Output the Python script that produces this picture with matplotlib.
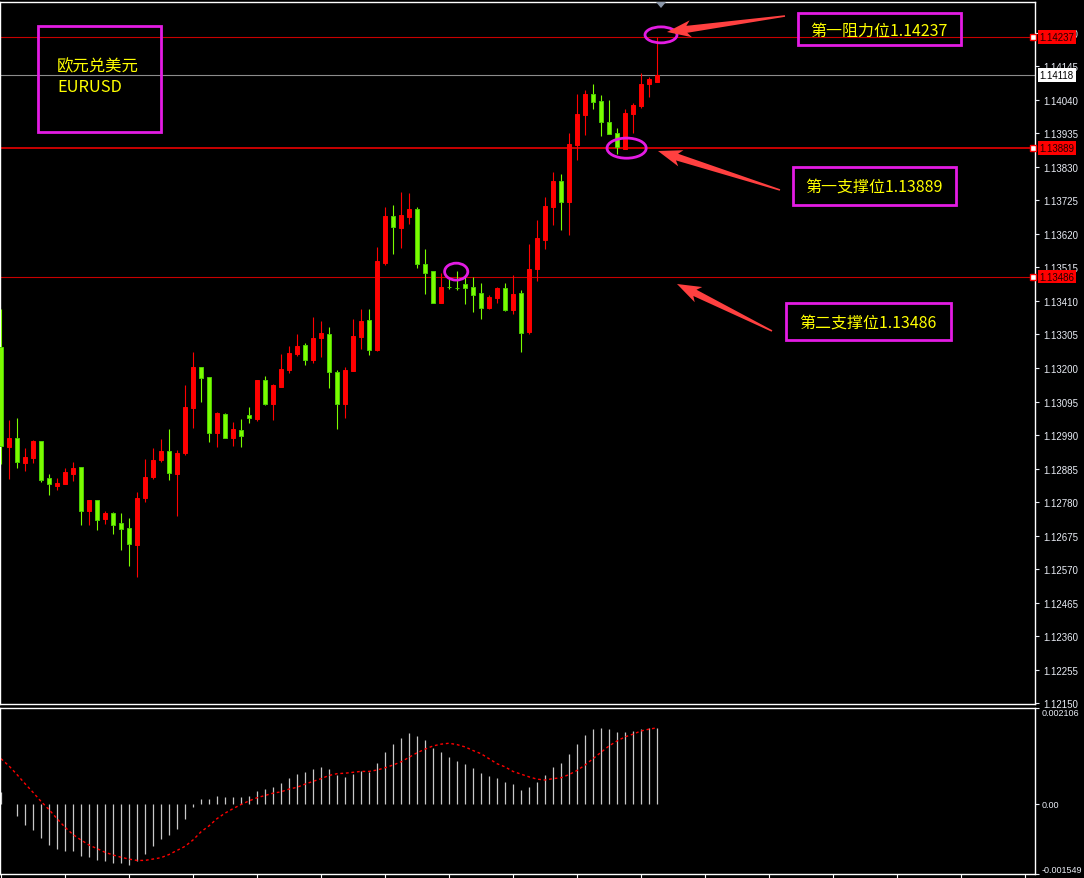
import numpy as np
import matplotlib
matplotlib.use("Agg")
import matplotlib.pyplot as plt
import matplotlib.transforms as mtransforms
from matplotlib.patches import Ellipse, Rectangle, Polygon

plt.rcParams['font.family'] = ['Liberation Sans', 'DejaVu Sans']

# ---- EURUSD candles ----
opens = [1.13266, 1.12952, 1.12980, 1.12902, 1.12918, 1.12971, 1.12855, 1.12830, 1.12836, 1.12868,
         1.12890, 1.12752, 1.12786, 1.12727, 1.12745, 1.12714, 1.12698, 1.12645, 1.12792, 1.12858,
         1.12912, 1.12940, 1.12868, 1.12933, 1.13074, 1.13203, 1.13172, 1.12996, 1.13056, 1.12980,
         1.13006, 1.13053, 1.13040, 1.13162, 1.13087, 1.13140, 1.13194, 1.13244, 1.13272, 1.13225,
         1.13294, 1.13306, 1.13187, 1.13087, 1.13190, 1.13297, 1.13350, 1.13256, 1.13529, 1.13676,
         1.13639, 1.13673, 1.13698, 1.13526, 1.13504, 1.13404, 1.13454, 1.13451, 1.13463, 1.13454,
         1.13435, 1.13388, 1.13419, 1.13451, 1.13382, 1.13435, 1.13313, 1.13510, 1.13601, 1.13704,
         1.13786, 1.13720, 1.13899, 1.13993, 1.14059, 1.14037, 1.13971, 1.13936, 1.13886, 1.13996,
         1.14021, 1.14090, 1.14096]
highs = [1.13385, 1.13037, 1.13043, 1.12949, 1.12974, 1.12971, 1.12868, 1.12855, 1.12886, 1.12905,
         1.12890, 1.12786, 1.12786, 1.12752, 1.12749, 1.12745, 1.12730, 1.12811, 1.12915, 1.12949,
         1.12977, 1.13009, 1.12943, 1.13147, 1.13250, 1.13203, 1.13172, 1.13062, 1.13059, 1.13031,
         1.13040, 1.13078, 1.13162, 1.13175, 1.13150, 1.13244, 1.13269, 1.13306, 1.13278, 1.13360,
         1.13347, 1.13328, 1.13194, 1.13203, 1.13353, 1.13385, 1.13385, 1.13579, 1.13704, 1.13711,
         1.13751, 1.13748, 1.13704, 1.13573, 1.13504, 1.13498, 1.13479, 1.13504, 1.13485, 1.13485,
         1.13466, 1.13429, 1.13454, 1.13466, 1.13491, 1.13444, 1.13589, 1.13664, 1.13736, 1.13814,
         1.13808, 1.13936, 1.14059, 1.14071, 1.14090, 1.14055, 1.14040, 1.13952, 1.14012, 1.14030,
         1.14124, 1.14112, 1.14237]
lows = [1.12899, 1.12852, 1.12886, 1.12877, 1.12902, 1.12843, 1.12802, 1.12818, 1.12836, 1.12846,
        1.12708, 1.12708, 1.12692, 1.12711, 1.12680, 1.12630, 1.12579, 1.12545, 1.12780, 1.12852,
        1.12905, 1.12849, 1.12736, 1.12927, 1.13012, 1.13093, 1.12968, 1.12952, 1.12980, 1.12955,
        1.12952, 1.13028, 1.13034, 1.13084, 1.13037, 1.13140, 1.13184, 1.13237, 1.13209, 1.13216,
        1.13234, 1.13137, 1.13009, 1.13043, 1.13190, 1.13259, 1.13241, 1.13253, 1.13523, 1.13557,
        1.13576, 1.13651, 1.13513, 1.13432, 1.13404, 1.13404, 1.13447, 1.13444, 1.13400, 1.13375,
        1.13353, 1.13385, 1.13404, 1.13379, 1.13369, 1.13250, 1.13306, 1.13473, 1.13573, 1.13648,
        1.13632, 1.13617, 1.13852, 1.13930, 1.14012, 1.13927, 1.13933, 1.13871, 1.13886, 1.13936,
        1.14015, 1.14049, 1.14096]
closes = [1.12955, 1.12980, 1.12905, 1.12921, 1.12971, 1.12849, 1.12836, 1.12839, 1.12874, 1.12886,
          1.12752, 1.12786, 1.12724, 1.12745, 1.12708, 1.12695, 1.12648, 1.12792, 1.12858, 1.12912,
          1.12940, 1.12871, 1.12933, 1.13078, 1.13203, 1.13169, 1.12996, 1.13059, 1.12980, 1.13009,
          1.12987, 1.13043, 1.13162, 1.13087, 1.13147, 1.13197, 1.13247, 1.13269, 1.13225, 1.13294,
          1.13310, 1.13187, 1.13087, 1.13194, 1.13300, 1.13347, 1.13256, 1.13535, 1.13676, 1.13642,
          1.13679, 1.13698, 1.13526, 1.13498, 1.13404, 1.13454, 1.13454, 1.13451, 1.13451, 1.13429,
          1.13388, 1.13422, 1.13451, 1.13382, 1.13432, 1.13310, 1.13510, 1.13607, 1.13708, 1.13786,
          1.13720, 1.13902, 1.13996, 1.14059, 1.14034, 1.13971, 1.13933, 1.13892, 1.13999, 1.14024,
          1.14090, 1.14106, 1.14118]

# MACD histogram and signal line
macd_hist = [0.00026, 0.0, -0.00027, -0.00046, -0.00057, -0.00076, -0.00091, -0.00099, -0.00104, -0.00104,
             -0.00115, -0.00117, -0.00124, -0.00126, -0.00130, -0.00130, -0.00135, -0.00126, -0.00111, -0.00093,
             -0.00077, -0.00069, -0.00055, -0.00033, -0.00007, 0.00010, 0.00010, 0.00017, 0.00015, 0.00015,
             0.00015, 0.00017, 0.00028, 0.00032, 0.00037, 0.00046, 0.00057, 0.00066, 0.00070, 0.00077,
             0.00081, 0.00077, 0.00063, 0.00059, 0.00066, 0.00072, 0.00070, 0.00090, 0.00114, 0.00132,
             0.00145, 0.00156, 0.00150, 0.00141, 0.00123, 0.00114, 0.00103, 0.00094, 0.00088, 0.00079,
             0.00068, 0.00061, 0.00057, 0.00048, 0.00043, 0.00030, 0.00037, 0.00048, 0.00063, 0.00081,
             0.00090, 0.00110, 0.00132, 0.00152, 0.00165, 0.00167, 0.00165, 0.00158, 0.00158, 0.00161,
             0.00165, 0.00167, 0.00167]
macd_signal = [0.00099, 0.00083, 0.00064, 0.00044, 0.00025, 0.00005, -0.00013, -0.00033, -0.00052, -0.00068,
               -0.00080, -0.00091, -0.00099, -0.00107, -0.00113, -0.00118, -0.00122, -0.00125, -0.00125, -0.00122,
               -0.00119, -0.00112, -0.00103, -0.00094, -0.00080, -0.00062, -0.00049, -0.00033, -0.00021, -0.00011,
               -0.00002, 0.00006, 0.00013, 0.00018, 0.00023, 0.00026, 0.00032, 0.00036, 0.00043, 0.00049,
               0.00055, 0.00062, 0.00066, 0.00067, 0.00069, 0.00071, 0.00071, 0.00074, 0.00079, 0.00085,
               0.00092, 0.00102, 0.00112, 0.00120, 0.00127, 0.00131, 0.00133, 0.00130, 0.00125, 0.00117,
               0.00110, 0.00099, 0.00088, 0.00081, 0.00071, 0.00065, 0.00059, 0.00054, 0.00052, 0.00055,
               0.00057, 0.00064, 0.00073, 0.00085, 0.00099, 0.00113, 0.00127, 0.00138, 0.00147, 0.00153,
               0.00160, 0.00164, 0.00167]

price_ticks = [1.12150 + 0.00105 * k for k in range(21)]
resistance1 = 1.14237
support1 = 1.13889
support2 = 1.13486
last_price = 1.14118
macd_top, macd_bottom = 0.002106, -0.001549

W, H = 1084, 879
fig = plt.figure(figsize=(W / 100, H / 100), dpi=100, facecolor='black')

ax = fig.add_axes([0, 1 - 705 / H, 1035 / W, 702 / H], facecolor='black')
axm = fig.add_axes([0, 1 - 875 / H, 1035 / W, 166 / H], facecolor='black')

x = np.arange(len(opens))
o = np.array(opens); c = np.array(closes)
up = c > o
col = np.where(up, '#FF0000', '#7CFC00')
edge = np.where(up, '#FF0000', '#4CD000')

ax.vlines(x, lows, highs, colors=col, lw=0.8, zorder=3)
height = np.maximum(np.abs(c - o), 0.000012)
ax.bar(x, height, bottom=np.minimum(o, c), width=0.62, color=col, edgecolor=edge, lw=0.7, zorder=4)

# horizontal levels
ax.axhline(resistance1, color='#C80000', lw=0.8, zorder=2)
ax.axhline(support1, color='#FF0000', lw=1.1, zorder=2)
ax.axhline(support2, color='#C80000', lw=0.8, zorder=2)
ax.axhline(last_price, color='#8C8C8C', lw=0.8, zorder=2)

ax.set_xlim(-0.125, 129.25)
ax.set_ylim(1.12147, 1.14347)
ax.set_xticks([])
ax.yaxis.tick_right()
ax.set_yticks(price_ticks)
ax.set_yticklabels([f'{t:.5f}' for t in price_ticks])
ax.tick_params(axis='y', colors='#E8ECF4', labelsize=7, length=3, width=0.8, pad=3)
for s in ax.spines.values():
    s.set_color('white'); s.set_linewidth(1)

# price boxes on the right axis
tr = mtransforms.blended_transform_factory(ax.transAxes, ax.transData)
for lvl in [resistance1, support1, support2]:
    ax.plot([0.998], [lvl], marker='s', ms=4, mfc='white', mec='#FF0000', mew=1,
            transform=tr, clip_on=False, zorder=6)
    ax.text(1.0045, lvl, f'{lvl:.5f}', transform=tr, va='center', ha='left', fontsize=7,
            color='#200000', zorder=7,
            bbox=dict(boxstyle='square,pad=0.18', fc='#FF0000', ec='none'))
ax.text(1.0045, last_price, f'{last_price:.5f}', transform=tr, va='center', ha='left', fontsize=7,
        color='black', zorder=7, bbox=dict(boxstyle='square,pad=0.18', fc='white', ec='none'))

# ellipses marking touches
mag = '#E31CE3'
ax.add_patch(Ellipse((82.5, 1.14244), 4.0, 0.00050, fill=False, ec=mag, lw=2, zorder=8))
ax.add_patch(Ellipse((78.2, support1), 4.9, 0.00063, fill=False, ec=mag, lw=2, zorder=8))
ax.add_patch(Ellipse((56.9, 1.13502), 2.9, 0.00053, fill=False, ec=mag, lw=2, zorder=8))

# MACD panel
axm.vlines(x, 0, macd_hist, colors='#C8C8C8', lw=0.9)
axm.plot(x, macd_signal, color='#FF0000', lw=1, ls=(0, (2, 2)))
axm.set_xlim(-0.125, 129.25)
axm.set_ylim(macd_bottom, macd_top)
axm.set_xticks(np.arange(0, 130, 8))
axm.set_xticklabels([])
axm.tick_params(axis='x', colors='white', length=3, width=0.8, direction='out')
axm.yaxis.tick_right()
axm.set_yticks([macd_bottom, 0, macd_top])
axm.set_yticklabels(['-0.001549', '0.00', '0.002106'])
axm.tick_params(axis='y', colors='#E8ECF4', labelsize=6.5, length=3, width=0.8, pad=2)
labs = axm.get_yticklabels()
labs[0].set_va('bottom'); labs[2].set_va('top')
for s in axm.spines.values():
    s.set_color('white'); s.set_linewidth(1)


def fpt(px, py):
    return (px / W, 1 - py / H)


def arrow(x0, y0, x1, y1, neck=7, head_w=17, head_len=20):
    tail = np.array([x0, y0], float); tip = np.array([x1, y1], float)
    u = (tip - tail) / np.hypot(*(tip - tail)); n = np.array([-u[1], u[0]])
    base = tip - u * head_len
    pts = [tail + n * 0.8, base + n * neck / 2, base - u * 4 + n * head_w / 2, tip,
           base - u * 4 - n * head_w / 2, base - n * neck / 2, tail - n * 0.8]
    fig.add_artist(Polygon([fpt(*p) for p in pts], closed=True, transform=fig.transFigure,
                           fc='#FF4040', ec='none', zorder=9))


arrow(785, 17, 667, 33)
arrow(780, 191, 658, 152)
arrow(772, 332, 677, 285)

# shift marker at the top
fig.add_artist(Polygon([fpt(656, 3), fpt(666, 3), fpt(661, 9)], closed=True,
                       transform=fig.transFigure, fc='#8A96A8', ec='none', zorder=9))

# annotation boxes
cjk = ['Noto Sans CJK SC', 'DejaVu Sans']
boxes = [(38, 27, 161, 133), (798, 14, 961, 46), (793, 168, 956, 206), (786, 304, 951, 341)]
for x0, y0, x1, y1 in boxes:
    fig.add_artist(Rectangle(fpt(x0, y1), (x1 - x0) / W, (y1 - y0) / H, transform=fig.transFigure,
                             fill=False, ec=mag, lw=2, zorder=9))

fig.text(*fpt(57, 67), '欧元兑美元', family=cjk, fontsize=11.8, color='#FFFF00', va='center', ha='left')
fig.text(*fpt(57, 87), 'EURUSD', family=cjk, fontsize=11.8, color='#FFFF00', va='center', ha='left')
fig.text(*fpt(879, 31), f'第一阻力位{resistance1:.5f}', family=cjk, fontsize=11.5,
         color='#FFFF00', va='center', ha='center')
fig.text(*fpt(874, 187), f'第一支撑位{support1:.5f}', family=cjk, fontsize=11.5,
         color='#FFFF00', va='center', ha='center')
fig.text(*fpt(868, 323), f'第二支撑位{support2:.5f}', family=cjk, fontsize=11.5,
         color='#FFFF00', va='center', ha='center')

fig.savefig('out.png', dpi=100, facecolor='black')
